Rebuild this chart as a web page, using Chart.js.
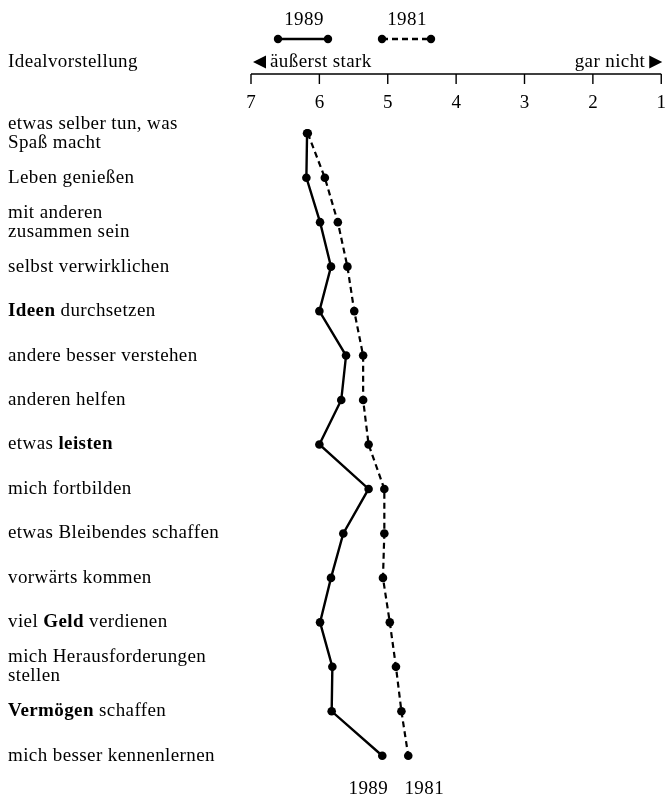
<!DOCTYPE html>
<html>
<head>
<meta charset="utf-8">
<script src="https://cdn.jsdelivr.net/npm/chart.js@4"></script>
<style>
  html, body { margin: 0; padding: 0; background: #fff; }
  #box { width: 666px; height: 805px; position: relative; }
</style>
</head>
<body>
<div id="box"><canvas id="ideal"></canvas></div>
<script>
var categories = [
    ['etwas selber tun, was', 'Spaß macht'],
    'Leben genießen',
    ['mit anderen', 'zusammen sein'],
    'selbst verwirklichen',
    'Ideen durchsetzen',
    'andere besser verstehen',
    'anderen helfen',
    'etwas leisten',
    'mich fortbilden',
    'etwas Bleibendes schaffen',
    'vorwärts kommen',
    'viel Geld verdienen',
    ['mich Herausforderungen', 'stellen'],
    'Vermögen schaffen',
    'mich besser kennenlernen'
];
var boldWords = ['Ideen', 'leisten', 'Geld', 'Vermögen'];
var values1989 = [6.18, 6.19, 5.99, 5.83, 6.00, 5.61, 5.68, 6.00, 5.28, 5.65, 5.83, 5.99, 5.81, 5.82, 5.08];
var values1981 = [6.17, 5.92, 5.73, 5.59, 5.49, 5.36, 5.36, 5.28, 5.05, 5.05, 5.07, 4.97, 4.88, 4.80, 4.70];
var tickValues = [7, 6, 5, 4, 3, 2, 1];
var seriesNames = ['1989', '1981'];
var axisTitle = 'Idealvorstellung';
var scaleEnds = ['äußerst stark', 'gar nicht'];

var serif = '"Liberation Serif", "DejaVu Serif", serif';
var ink = '#000';

// axis line, end labels, legend, row labels with bold words
var decor = {
    id: 'decor',
    afterDraw: function (chart) {
        var ctx = chart.ctx;
        var xs = chart.scales.x;
        var ys = chart.scales.y;
        var x7 = xs.getPixelForValue(7);
        var x1 = xs.getPixelForValue(1);
        ctx.save();
        ctx.fillStyle = ink;
        ctx.strokeStyle = ink;
        ctx.textBaseline = 'middle';
        if ('letterSpacing' in ctx) ctx.letterSpacing = '0.4px';

        // title on the left
        ctx.font = '19px ' + serif;
        ctx.textAlign = 'left';
        ctx.fillText(axisTitle, 8, 62);

        // axis line with ticks pointing down
        ctx.lineWidth = 1.4;
        ctx.beginPath();
        ctx.moveTo(x7, 74);
        ctx.lineTo(x1, 74);
        tickValues.forEach(function (v) {
            var px = xs.getPixelForValue(v);
            ctx.moveTo(px, 74);
            ctx.lineTo(px, 84);
        });
        ctx.stroke();

        // end labels with arrows
        ctx.beginPath();
        ctx.moveTo(x7 + 2, 62);
        ctx.lineTo(x7 + 15, 55.5);
        ctx.lineTo(x7 + 15, 68.5);
        ctx.closePath();
        ctx.fill();
        ctx.fillText(scaleEnds[0], x7 + 19, 62);
        ctx.beginPath();
        ctx.moveTo(x1 + 1, 62);
        ctx.lineTo(x1 - 12, 55.5);
        ctx.lineTo(x1 - 12, 68.5);
        ctx.closePath();
        ctx.fill();
        ctx.textAlign = 'right';
        ctx.fillText(scaleEnds[1], x1 - 16, 62);

        // legend
        ctx.font = '19px ' + serif;
        ctx.textAlign = 'center';
        ctx.fillText(seriesNames[0], 304, 20);
        ctx.fillText(seriesNames[1], 407, 20);
        ctx.lineWidth = 2.4;
        ctx.beginPath();
        ctx.moveTo(278, 39);
        ctx.lineTo(328, 39);
        ctx.stroke();
        ctx.setLineDash([6, 4]);
        ctx.beginPath();
        ctx.moveTo(382, 39);
        ctx.lineTo(431, 39);
        ctx.stroke();
        ctx.setLineDash([]);
        [278, 328, 382, 431].forEach(function (px) {
            ctx.beginPath();
            ctx.arc(px, 39, 4.2, 0, Math.PI * 2);
            ctx.fill();
        });

        // series names under the last points
        var last1989 = chart.getDatasetMeta(0).data[categories.length - 1];
        var last1981 = chart.getDatasetMeta(1).data[categories.length - 1];
        ctx.fillText(seriesNames[0], last1989.x - 14, 789);
        ctx.fillText(seriesNames[1], last1981.x + 16, 789);

        // row labels
        ctx.textAlign = 'left';
        categories.forEach(function (lab, i) {
            var lines = Array.isArray(lab) ? lab : [lab];
            var cy = ys.getPixelForTick(i);
            var y0 = cy - (lines.length - 1) * 19 / 2;
            lines.forEach(function (line, k) {
                var px = 8;
                line.split(' ').forEach(function (word) {
                    ctx.font = (boldWords.indexOf(word) >= 0 ? 'bold ' : '') + '19px ' + serif;
                    ctx.fillText(word, px, y0 + k * 19);
                    px += ctx.measureText(word + ' ').width;
                });
            });
        });
        ctx.restore();
    }
};

var ctx1 = document.getElementById('ideal').getContext('2d');
var ideal = new Chart(ctx1, {
    type: 'line',
    data: {
        labels: categories,
        datasets: [{
            label: seriesNames[0],
            data: values1989,
            borderColor: ink,
            backgroundColor: ink,
            borderWidth: 2.4,
            pointRadius: 4.3,
            pointBackgroundColor: ink,
            pointBorderWidth: 0,
            tension: 0
        }, {
            label: seriesNames[1],
            data: values1981,
            borderColor: ink,
            backgroundColor: ink,
            borderWidth: 2.2,
            borderDash: [6, 4],
            pointRadius: 4.3,
            pointBackgroundColor: ink,
            pointBorderWidth: 0,
            tension: 0
        }]
    },
    options: {
        indexAxis: 'y',
        responsive: true,
        maintainAspectRatio: false,
        animation: false,
        layout: {
            padding: { left: 8, right: 2, top: 71, bottom: 27 }
        },
        plugins: {
            legend: { display: false },
            tooltip: { enabled: false }
        },
        scales: {
            x: {
                type: 'linear',
                position: 'top',
                min: 1,
                max: 7,
                reverse: true,
                afterBuildTicks: function (scale) {
                    scale.ticks = tickValues.map(function (v) { return { value: v }; });
                },
                afterFit: function (scale) { scale.height = 40; },
                ticks: {
                    padding: 0,
                    color: ink,
                    font: { family: serif, size: 19, lineHeight: 0.8 }
                },
                grid: { display: false, drawTicks: false },
                border: { display: false }
            },
            y: {
                type: 'category',
                offset: true,
                afterFit: function (scale) { scale.width = 243; },
                ticks: { display: false },
                grid: { display: false, drawTicks: false },
                border: { display: false }
            }
        }
    },
    plugins: [decor]
});
</script>
</body>
</html>
